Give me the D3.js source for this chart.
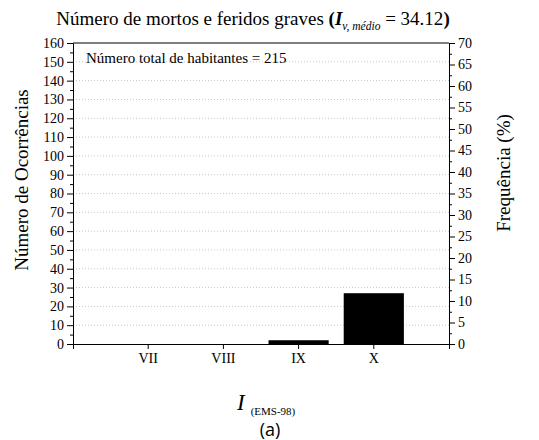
<!DOCTYPE html>
<html>
<head>
<meta charset="utf-8">
<script src="https://cdn.jsdelivr.net/npm/d3@7"></script>
<style>
  body { margin: 0; background: #fff; }
  svg { display: block; }
  text { font-family: "Liberation Serif", "Times New Roman", serif; fill: #000; }
</style>
</head>
<body>
<div class="chart"></div>
<script>
// data
const categories = ["VII", "VIII", "IX", "X"];
const counts = [0, 0, 2, 27];
const leftTicks = d3.range(0, 161, 10);
const rightTicks = d3.range(0, 71, 5);
const totalHabitantes = 215;
const iMedio = "34.12";

const width = 539, height = 440;
const margin = ({top: 43, right: 90, bottom: 96, left: 73});
const x0 = margin.left;
const plotRight = 449;
const plotBottom = height - margin.bottom; // 344
const serif = '"Liberation Serif", "Times New Roman", serif';

const svg = d3.select('.chart')
    .append('svg')
    .attr('width', width)
    .attr('height', height);

const xScale = d3.scaleBand()
    .domain(categories)
    .range([x0, plotRight])
    .paddingInner(0.2)
    .paddingOuter(0.6);

const yScale = d3.scaleLinear()
    .domain([0, 160])
    .range([plotBottom, margin.top]);

const yRight = d3.scaleLinear()
    .domain([0, 70])
    .range([plotBottom, margin.top]);

// gridlines
svg.append('g')
    .selectAll('line')
    .data(d3.range(10, 160, 10))
    .enter()
    .append('line')
        .attr('x1', x0)
        .attr('x2', plotRight)
        .attr('y1', d => yScale(d))
        .attr('y2', d => yScale(d))
        .attr('stroke', '#c8c8c8')
        .attr('stroke-width', 1)
        .attr('stroke-dasharray', '1,2');

// bars
svg.append('g')
    .selectAll('rect')
    .data(categories)
    .enter()
    .append('rect')
        .attr('x', d => xScale(d))
        .attr('width', xScale.bandwidth())
        .attr('y', (d, i) => yScale(counts[i]))
        .attr('height', (d, i) => plotBottom - yScale(counts[i]))
        .attr('fill', '#000');

function styleAxis(g) {
    g.attr('font-family', serif);
    g.selectAll('path').attr('stroke', '#000').attr('stroke-width', 1);
    g.selectAll('line').attr('stroke', '#000').attr('stroke-width', 1);
    g.selectAll('text').style('font-family', serif).attr('font-size', 14);
}

// left axis
svg.append('g')
    .attr('transform', `translate(${x0},0)`)
    .call(d3.axisLeft(yScale).tickValues(d3.range(5, 160, 10)).tickSize(3).tickFormat('').tickSizeOuter(0))
    .call(styleAxis);
svg.append('g')
    .attr('transform', `translate(${x0},0)`)
    .call(d3.axisLeft(yScale).tickValues(leftTicks).tickSize(6).tickPadding(3).tickSizeOuter(0))
    .call(styleAxis);

// right axis
svg.append('g')
    .attr('transform', `translate(${plotRight},0)`)
    .call(d3.axisRight(yRight).tickValues(d3.range(2.5, 70, 5)).tickSize(3).tickFormat('').tickSizeOuter(0))
    .call(styleAxis);
svg.append('g')
    .attr('transform', `translate(${plotRight},0)`)
    .call(d3.axisRight(yRight).tickValues(rightTicks).tickSize(6).tickPadding(3).tickSizeOuter(0))
    .call(styleAxis);

// bottom axis
svg.append('g')
    .attr('transform', `translate(0,${plotBottom})`)
    .call(d3.axisBottom(xScale).tickSize(5).tickPadding(4).tickSizeOuter(5))
    .call(styleAxis);

// top frame line
svg.append('line')
    .attr('x1', x0).attr('x2', plotRight)
    .attr('y1', margin.top).attr('y2', margin.top)
    .attr('stroke', '#000');

// title
const title = svg.append('text')
    .attr('x', 253)
    .attr('y', 25)
    .attr('text-anchor', 'middle')
    .attr('font-size', 19)
    .style('font-family', serif);
title.append('tspan').text('Número de mortos e feridos graves ');
title.append('tspan').attr('font-weight', 'bold').text('(');
title.append('tspan').attr('font-weight', 'bold').attr('font-style', 'italic').text('I');
title.append('tspan').attr('font-style', 'italic').attr('font-size', 11.5).attr('dy', 5).text('v, médio');
title.append('tspan').attr('dy', -5).text(' = ' + iMedio);
title.append('tspan').attr('font-weight', 'bold').text(')');

// annotation
svg.append('text')
    .attr('x', 86)
    .attr('y', 63)
    .attr('font-size', 15)
    .style('font-family', serif)
    .text('Número total de habitantes = ' + totalHabitantes);

// y labels
svg.append('text')
    .attr('transform', 'translate(28,180) rotate(-90)')
    .attr('text-anchor', 'middle')
    .attr('font-size', 19)
    .style('font-family', serif)
    .text('Número de Ocorrências');

svg.append('text')
    .attr('transform', 'translate(510,173) rotate(-90)')
    .attr('text-anchor', 'middle')
    .attr('font-size', 19)
    .style('font-family', serif)
    .text('Frequência (%)');

// x label
const xl = svg.append('text')
    .attr('x', 237)
    .attr('y', 410)
    .attr('font-size', 23)
    .style('font-family', serif);
xl.append('tspan').attr('font-style', 'italic').text('I');
xl.append('tspan').attr('font-size', 11).attr('dx', 6).attr('dy', 5).text('(EMS-98)');

svg.append('text')
    .attr('x', 270)
    .attr('y', 436)
    .attr('text-anchor', 'middle')
    .attr('font-size', 18)
    .style('font-family', '"Open Sans", "Noto Sans", sans-serif')
    .text('(a)');
</script>
</body>
</html>
